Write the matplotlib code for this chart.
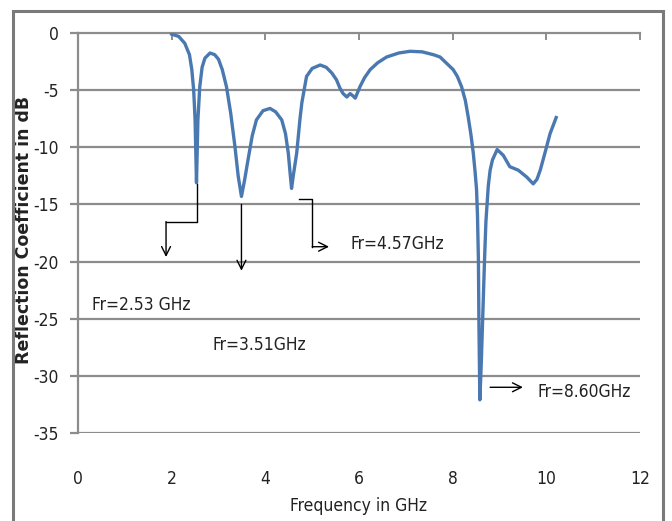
import matplotlib
matplotlib.use("Agg")
import matplotlib.pyplot as plt
from matplotlib.patches import Rectangle

plt.rcParams['font.family'] = ['DejaVu Sans']
plt.rcParams['font.stretch'] = 'condensed'

freq = [2.00, 2.15, 2.28, 2.38, 2.43, 2.47, 2.50, 2.53, 2.56, 2.60, 2.65, 2.71, 2.82,
        2.92, 3.00, 3.08, 3.17, 3.26, 3.35, 3.42, 3.49, 3.56, 3.63, 3.72, 3.81, 3.95,
        4.10, 4.22, 4.35, 4.43, 4.49, 4.53, 4.56, 4.60, 4.67, 4.74, 4.78, 4.88, 5.00,
        5.17, 5.30, 5.42, 5.52, 5.59, 5.66, 5.74, 5.81, 5.87, 5.92, 6.02, 6.12, 6.24,
        6.40, 6.59, 6.85, 7.09, 7.35, 7.59, 7.73, 7.87, 8.01, 8.10, 8.19, 8.27, 8.33,
        8.39, 8.44, 8.48, 8.51, 8.53, 8.55, 8.56, 8.58, 8.61, 8.64, 8.68, 8.71, 8.76,
        8.80, 8.85, 8.95, 9.08, 9.22, 9.40, 9.58, 9.72, 9.80, 9.87, 9.97, 10.08, 10.21]
s11 = [-0.1, -0.3, -0.9, -1.9, -3.2, -5.0, -7.6, -13.1, -7.6, -4.7, -3.0, -2.2, -1.75,
       -1.9, -2.3, -3.2, -4.7, -7.0, -9.9, -12.5, -14.3, -12.8, -11.1, -9.0, -7.6, -6.8,
       -6.6, -6.9, -7.6, -8.8, -10.5, -12.3, -13.6, -12.4, -10.5, -7.5, -6.1, -3.8, -3.1,
       -2.8, -3.0, -3.5, -4.1, -4.8, -5.3, -5.6, -5.3, -5.5, -5.7, -4.7, -3.9, -3.2,
       -2.6, -2.1, -1.75, -1.6, -1.65, -1.9, -2.1, -2.65, -3.2, -3.8, -4.7, -5.9, -7.3,
       -8.9, -10.5, -12.2, -13.7, -16.0, -19.9, -25.1, -32.1, -29.0, -25.1, -19.9, -16.5, -13.4,
       -12.0, -11.1, -10.2, -10.7, -11.7, -12.0, -12.6, -13.2, -12.8, -12.0, -10.5, -8.8, -7.4]

res_labels = ["Fr=2.53 GHz", "Fr=3.51GHz", "Fr=4.57GHz", "Fr=8.60GHz"]
label_xy = [(0.30, -23.8), (2.88, -27.3), (5.81, -18.5), (9.82, -31.4)]

# leader lines: list of path points, the last segment ends in an arrow head
leaders = [
    [(2.54, -13.2), (2.54, -16.5), (1.88, -16.5), (1.88, -19.6)],
    [(3.49, -15.0), (3.49, -20.8)],
    [(4.72, -14.5), (5.00, -14.5), (5.00, -18.7), (5.36, -18.7)],
    [(8.80, -31.0), (9.50, -31.0)],
]

xticks = [0, 2, 4, 6, 8, 10, 12]
yticks = [0, -5, -10, -15, -20, -25, -30, -35]

fig = plt.figure(figsize=(6.72, 5.21), dpi=100)
ax = fig.add_axes([78 / 672, 1 - 433 / 521, 562 / 672, 400 / 521])

grid_c = '#8c8c8c'
for y in yticks[1:]:
    ax.axhline(y, color=grid_c, lw=1.6, zorder=1)

ax.plot(freq, s11, color='#4a78b0', lw=2.4, solid_joinstyle='round', zorder=3)

for path in leaders:
    xs = [p[0] for p in path]
    ys = [p[1] for p in path]
    ax.plot(xs[:-1], ys[:-1], color='k', lw=1.0, zorder=4)
    ax.annotate('', xy=path[-1], xytext=path[-2],
                arrowprops=dict(arrowstyle='->', color='k', lw=1.0,
                                shrinkA=0, shrinkB=0, mutation_scale=16), zorder=4)

for txt, (x, y) in zip(res_labels, label_xy):
    ax.text(x, y, txt, fontsize=12.5, color='#222222', ha='left', va='center')

ax.set_xlim(0, 12)
ax.set_ylim(-35, 0)
ax.set_xticks(xticks)
ax.set_yticks(yticks)
ax.set_yticklabels([str(v) for v in yticks])

for side in ['right', 'bottom']:
    ax.spines[side].set_visible(False)
for side in ['left', 'top']:
    ax.spines[side].set_color(grid_c)
    ax.spines[side].set_linewidth(1.6)

ax.tick_params(axis='x', top=True, bottom=False, labeltop=False, labelbottom=True,
               direction='in', length=5, width=1.4, color=grid_c, pad=27,
               labelsize=12.5, labelcolor='#222222')
ax.tick_params(axis='y', left=True, direction='out', length=6, width=1.6,
               color=grid_c, pad=8, labelsize=12.5, labelcolor='#222222')

ax.set_xlabel('Frequency in GHz', fontsize=12.5, color='#222222', labelpad=6)
ax.set_ylabel('Reflection Coefficient in dB', fontsize=12.5, fontweight='bold',
              fontstretch='normal', color='#222222')
ax.yaxis.set_label_coords(-0.08, 0.5075)

fig.patches.append(Rectangle((13 / 672, -0.05), 650 / 672, 1.05 - 11 / 521,
                             transform=fig.transFigure, fill=False,
                             edgecolor='#7a7a7a', lw=2.2))

fig.savefig('out.png', dpi=100)
